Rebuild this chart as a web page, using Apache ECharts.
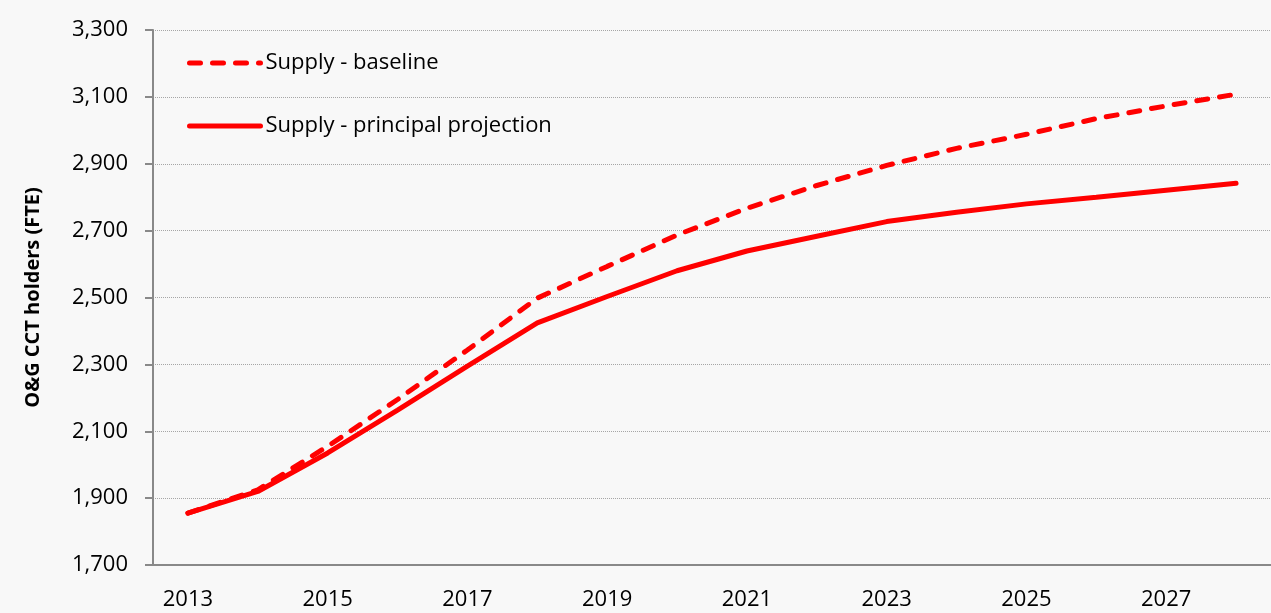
<!DOCTYPE html>
<html>
<head>
<meta charset="utf-8">
<script src="https://cdn.jsdelivr.net/npm/echarts@6/dist/echarts.min.js"></script>
<style>
html,body{margin:0;padding:0;background:#f8f8f8;}
#chart{width:1271px;height:613px;}
</style>
</head>
<body>
<div id="chart"></div>
<script>
var years = ['2013','2014','2015','2016','2017','2018','2019','2020','2021','2022','2023','2024','2025','2026','2027','2028'];
var baseline = [1855,1925,2055,2195,2343,2498,2593,2687,2767,2835,2895,2946,2988,3035,3073,3108];
var principal = [1855,1920,2035,2163,2295,2424,2503,2580,2639,2683,2727,2755,2780,2800,2821,2842];
var yTicks = [1700, 3300, 200];

var dom = document.getElementById("chart");
var myChart = echarts.init(dom);
var font = '"Open Sans", sans-serif';
option = {
    backgroundColor: '#f8f8f8',
    animation: false,
    grid: {
        left: 153,
        right: -2,
        top: 30,
        bottom: 48
    },
    legend: {
        orient: 'vertical',
        left: 182,
        top: 47,
        itemWidth: 71,
        itemHeight: 14,
        itemGap: 41,
        itemStyle: {opacity: 0},
        lineStyle: {width: 5, cap: 'round'},
        textStyle: {
            fontFamily: font,
            fontSize: 22,
            color: '#000'
        },
        data: ['Supply - baseline', 'Supply - principal projection']
    },
    xAxis: {
        type: 'category',
        data: years,
        boundaryGap: true,
        axisLine: {lineStyle: {color: '#898989', width: 2}},
        axisTick: {
            interval: 0,
            length: 8,
            lineStyle: {color: '#898989', width: 2}
        },
        axisLabel: {
            interval: 1,
            margin: 24,
            fontFamily: font,
            fontSize: 22,
            color: '#000'
        }
    },
    yAxis: {
        type: 'value',
        min: yTicks[0],
        max: yTicks[1],
        interval: yTicks[2],
        name: 'O&G CCT holders (FTE)',
        nameLocation: 'middle',
        nameGap: 110,
        nameTextStyle: {
            fontFamily: font,
            fontSize: 20,
            fontWeight: 'bold',
            color: '#000'
        },
        axisLine: {show: true, lineStyle: {color: '#898989', width: 2}},
        axisTick: {show: true, length: 8, lineStyle: {color: '#898989', width: 2}},
        axisLabel: {
            margin: 25,
            fontFamily: font,
            fontSize: 22,
            color: '#000',
            formatter: function (v) { return v.toLocaleString('en-US'); }
        },
        splitLine: {lineStyle: {color: '#a6a6a6', type: 'dotted', width: 1}}
    },
    series: [{
        name: 'Supply - baseline',
        type: 'line',
        data: baseline,
        symbol: 'none',
        lineStyle: {color: '#ff0000', width: 5, type: [11, 12], cap: 'round'},
        itemStyle: {color: '#ff0000'}
    },
    {
        name: 'Supply - principal projection',
        type: 'line',
        data: principal,
        symbol: 'none',
        lineStyle: {color: '#ff0000', width: 5, cap: 'round'},
        itemStyle: {color: '#ff0000'}
    }
    ]
};
if (option && typeof option === "object") {
    myChart.setOption(option, true);
}
</script>
</body>
</html>
